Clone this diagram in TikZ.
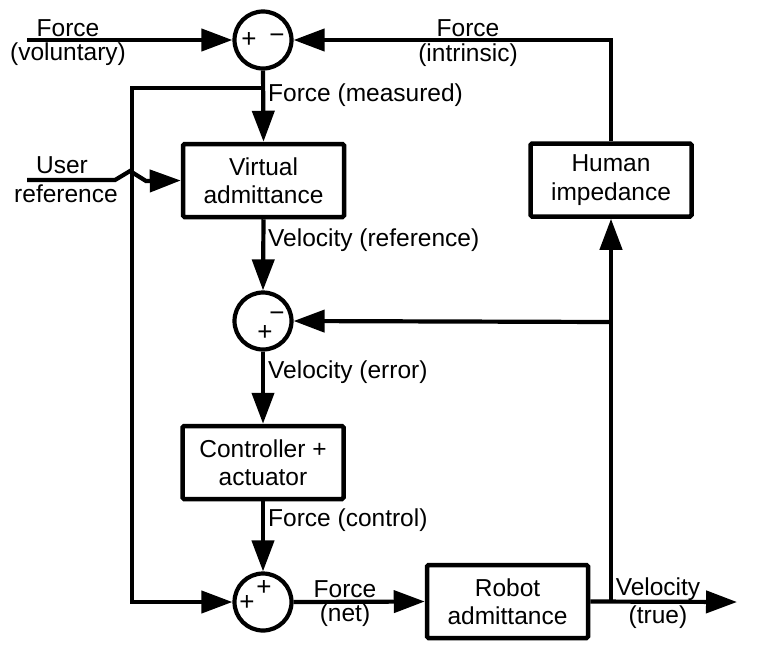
\documentclass[tikz,border=0pt]{standalone}
\usepackage{fontspec}
\setmainfont{Liberation Sans}
\usetikzlibrary{arrows.meta}
\begin{document}
\begin{tikzpicture}[x=1pt,y=-1pt,
  wire/.style={line width=4.2pt,line join=miter},
  arr/.style={wire,-{Triangle[length=31pt,width=22pt]}},
  blk/.style={draw,line width=4.5pt,rounded corners=1.5pt,minimum width=161pt,minimum height=73pt,
    align=center,inner sep=0pt,font=\fontsize{24.5}{28.5}\selectfont},
  sumnode/.style={draw,circle,line width=4.2pt,minimum size=57pt,inner sep=0pt},
  lbl/.style={font=\fontsize{24.5}{27}\selectfont,inner sep=0pt,align=center},
  sgn/.style={font=\fontsize{26}{26}\selectfont,inner sep=0pt}]
\useasboundingbox (0,0) rectangle (759,664);

% summing junctions
\node[sumnode] (sTop) at (263,40) {};
\node[sumnode] (sMid) at (263,321) {};
\node[sumnode] (sBot) at (263,602) {};
\node[sgn] (pTop) at (249,40) {+};
\node[sgn] (mTop) at (277,39) {−};
\node[sgn] (mMid) at (277,317) {−};
\node[sgn] (pMid) at (265,333) {+};
\node[sgn] (pBotL) at (247,603) {+};
\node[sgn] (pBotT) at (264,588) {+};

% blocks
\node[blk] (virt) at (263.5,180.5) {Virtual\\admittance};
\node[blk] (ctrl) at (263,462.5) {Controller +\\actuator};
\node[blk] (rob) at (507.5,601.5) {Robot\\admittance};
\node[blk] (hum) at (611,180) {Human\\impedance};

% free ends and branch points
\coordinate (vin) at (27,40);
\coordinate (uin) at (27,180);
\coordinate (hop1) at (115,180);
\coordinate (hop2) at (130,171);
\coordinate (hop3) at (146,181);
\coordinate (br) at (263,88);
\coordinate (lc1) at (132,88);
\coordinate (lc2) at (132,602);
\coordinate (jm) at (611,322);
\coordinate (jb) at (611,602);
\coordinate (vout) at (737,602);

% connectors
\draw[arr] (vin) -- (sTop.west);
\draw[arr] (hum.north) |- (sTop.east);
\draw[arr] (sTop.south) -- (virt.north);
\draw[arr] (br) -- (lc1) -- (lc2) -- (sBot.west);
\draw[arr] (uin) -- (hop1) -- (hop2) -- (hop3) -- (virt.west);
\draw[arr] (virt.south) -- (sMid.north);
\draw[arr] (jm) -- (sMid.east);
\draw[arr] (sMid.south) -- (ctrl.north);
\draw[arr] (ctrl.south) -- (sBot.north);
\draw[arr] (sBot.east) -- (rob.west);
\draw[arr] (rob.east) -- (vout);
\draw[arr] (jb) -- (hum.south);

% signal labels
\node[lbl] (lVol1) at (68,28) {Force};
\node[lbl] (lVol2) at (68,54) {(voluntary)};
\node[lbl] (lInt1) at (468,28) {Force};
\node[lbl] (lInt2) at (468,55) {(intrinsic)};
\node[lbl,anchor=west] (lMeas) at (268,95) {Force (measured)};
\node[lbl] (lUsr1) at (62,165) {User};
\node[lbl] (lUsr2) at (66,194) {reference};
\node[lbl,anchor=west] (lVref) at (268,240) {Velocity (reference)};
\node[lbl,anchor=west] (lVerr) at (268,372) {Velocity (error)};
\node[lbl,anchor=west] (lFctl) at (268,520) {Force (control)};
\node[lbl] (lNet1) at (345,589) {Force};
\node[lbl] (lNet2) at (345,615) {(net)};
\node[lbl] (lTru1) at (658,589) {Velocity};
\node[lbl] (lTru2) at (658,617) {(true)};
\end{tikzpicture}
\end{document}
